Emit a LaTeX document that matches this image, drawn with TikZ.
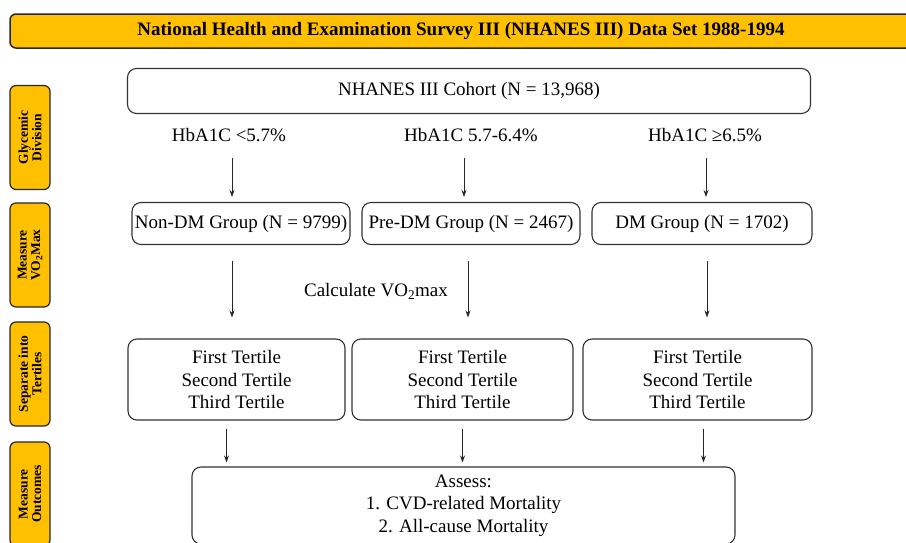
\documentclass[tikz,border=0pt]{standalone}
\usepackage{fontspec}
\setmainfont{Liberation Serif}
\usetikzlibrary{arrows.meta,positioning,calc}
\definecolor{gold}{HTML}{FFC000}

\begin{document}
\begin{tikzpicture}[
    x=1pt, y=-1pt,
    box/.style={rectangle, draw=black!80, line width=1.1pt, rounded corners=9pt, align=center, inner sep=0pt, font=\fontsize{19}{22.5}\selectfont},
    sidebox/.style={rectangle, draw=black!85, line width=1.2pt, fill=gold, rounded corners=6pt, rotate=90, minimum width=104pt, minimum height=40pt, align=center, inner sep=0pt, font=\bfseries\fontsize{13.5}{13.5}\selectfont},
    lbl/.style={font=\fontsize{19}{22.5}\selectfont},
    arr/.style={-{Stealth[length=7pt, width=5pt]}, line width=0.9pt, black!85},
]

\clip (0,0) rectangle (906,542);

% Title banner
\node[box, fill=gold, draw=black!85, line width=1.5pt, rounded corners=6pt, minimum width=902pt, minimum height=34pt,
      font=\bfseries\fontsize{19}{22}\selectfont] (survey) at (461,31) {National Health and Examination Survey III (NHANES III) Data Set 1988-1994};

% Step labels on the left
\node[sidebox] (glyc) at (30,137.5) {Glycemic\\Division};
\node[sidebox] (vomax) at (30,255) {Measure\\VO\textsubscript{2}Max};
\node[sidebox] (septert) at (30,374) {Separate into\\Tertiles};
\node[sidebox] (outc) at (30,494) {Measure\\Outcomes};

% Cohort
\node[box, minimum width=683pt, minimum height=45pt] (cohort) at (469,91) {NHANES III Cohort (N = 13,968)};

% HbA1C cut-offs
\node[lbl] (lo) at (229,135) {HbA1C <5.7\%};
\node[lbl] (mid) at (471,135) {HbA1C 5.7-6.4\%};
\node[lbl] (hi) at (705,135) {HbA1C ≥6.5\%};

% Groups
\node[box, minimum width=218pt, minimum height=42pt] (nondm) at (241,223.5) {Non-DM Group (N = 9799)};
\node[box, minimum width=218pt, minimum height=42pt] (predm) at (471,223.5) {Pre-DM Group (N = 2467)};
\node[box, minimum width=220pt, minimum height=42pt] (dm) at (702,223.5) {DM Group (N = 1702)};

\node[lbl] (calc) at (376,291) {Calculate VO\textsubscript{2}max};

% Tertiles
\node[box, minimum width=217pt, minimum height=81pt] (tone) at (236.5,379.5) {First Tertile\\Second Tertile\\Third Tertile};
\node[box, minimum width=221pt, minimum height=81pt] (ttwo) at (462.5,379.5) {First Tertile\\Second Tertile\\Third Tertile};
\node[box, minimum width=229pt, minimum height=81pt] (tthree) at (697.5,379.5) {First Tertile\\Second Tertile\\Third Tertile};

% Outcomes
\node[box, minimum width=543pt, minimum height=77pt] (assess) at (463.5,505.5) {Assess:\\1. CVD-related Mortality\\2. All-cause Mortality};

% Arrows: cut-off to group
\draw[arr, shorten <=13pt, shorten >=5pt] ([xshift=3pt]lo.south) -- ([xshift=3pt]lo.south |- nondm.north);
\draw[arr, shorten <=13pt, shorten >=5pt] ([xshift=-7pt]mid.south) -- ([xshift=-7pt]mid.south |- predm.north);
\draw[arr, shorten <=13pt, shorten >=5pt] ([xshift=1pt]hi.south) -- ([xshift=1pt]hi.south |- dm.north);

% Arrows: group to tertiles
\draw[arr, shorten <=16pt, shorten >=21pt] ([xshift=-9pt]nondm.south) -- ([xshift=-9pt]nondm.south |- tone.north);
\draw[arr, shorten <=16pt, shorten >=21pt] ([xshift=-3pt]predm.south) -- ([xshift=-3pt]predm.south |- ttwo.north);
\draw[arr, shorten <=16pt, shorten >=21pt] ([xshift=5pt]dm.south) -- ([xshift=5pt]dm.south |- tthree.north);

% Arrows: tertiles to outcomes
\draw[arr, shorten <=8pt, shorten >=4pt] ([xshift=-10pt]tone.south) -- ([xshift=-10pt]tone.south |- assess.north);
\draw[arr, shorten <=8pt, shorten >=4pt] (ttwo.south) -- (ttwo.south |- assess.north);
\draw[arr, shorten <=8pt, shorten >=4pt] ([xshift=6pt]tthree.south) -- ([xshift=6pt]tthree.south |- assess.north);

\end{tikzpicture}
\end{document}
